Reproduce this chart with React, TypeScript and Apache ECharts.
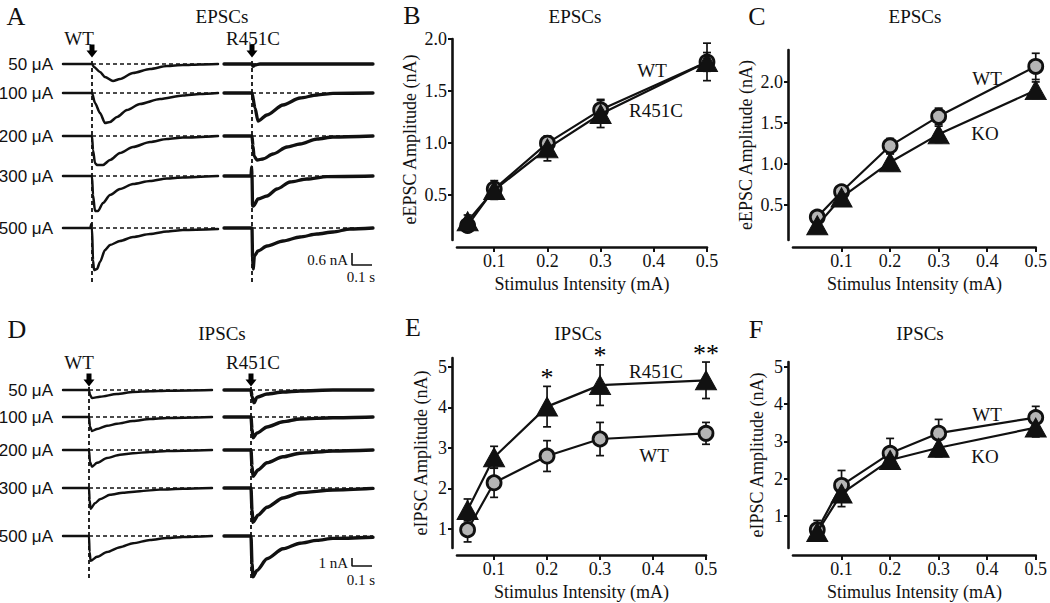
import React, { useEffect, useRef } from "react";
import * as echarts from "echarts";

// ---------------- data ----------------
const stimIntensity = [0.05, 0.1, 0.2, 0.3, 0.5];
const xTickValues = [0.1, 0.2, 0.3, 0.4, 0.5];
const epscTickValues = [0.5, 1.0, 1.5, 2.0];
const ipscTickValues = [1, 2, 3, 4, 5];
const stimLabels = ["50 μA", "100 μA", "200 μA", "300 μA", "500 μA"];

// Panel B (EPSCs, WT vs R451C)
const epscB_wtMean = [0.21, 0.56, 1.0, 1.32, 1.78];
const epscB_wtErr = [0.06, 0.06, 0.05, 0.1, 0.09];
const epscB_r451cMean = [0.25, 0.55, 0.95, 1.28, 1.78];
const epscB_r451cErr = [0.06, 0.09, 0.12, 0.13, 0.18];
// Panel C (EPSCs, WT vs KO)
const epscC_wtMean = [0.35, 0.66, 1.22, 1.58, 2.19];
const epscC_wtErr = [0.05, 0.06, 0.09, 0.1, 0.16];
const epscC_koMean = [0.25, 0.59, 1.02, 1.36, 1.9];
const epscC_koErr = [0.05, 0.06, 0.1, 0.1, 0.1];
// Panel E (IPSCs, WT vs R451C)
const ipscE_wtMean = [0.98, 2.14, 2.8, 3.22, 3.36];
const ipscE_wtErr = [0.3, 0.36, 0.38, 0.41, 0.27];
const ipscE_r451cMean = [1.47, 2.77, 4.02, 4.55, 4.67];
const ipscE_r451cErr = [0.27, 0.27, 0.5, 0.5, 0.45];
const ipscE_sigMarks = ["", "", "*", "*", "**"];
// Panel F (IPSCs, WT vs KO)
const ipscF_wtMean = [0.63, 1.82, 2.68, 3.22, 3.64];
const ipscF_wtErr = [0.25, 0.4, 0.4, 0.37, 0.3];
const ipscF_koMean = [0.57, 1.6, 2.5, 2.83, 3.37];
const ipscF_koErr = [0.22, 0.35, 0.22, 0.24, 0.25];

// Example traces: [time from stimulus (ms), current (nA)]
const epscWt50 = [[-145, 0], [-5, 0], [0, 0], [10, -0.15], [40, -0.4], [65, -0.65], [105, -0.85], [140, -0.75], [205, -0.45], [290, -0.25], [375, -0.1], [455, -0.05], [540, -0.02], [630, 0]];
const epscWt100 = [[-145, 0], [0, 0], [15, -0.5], [40, -1.0], [65, -1.5], [90, -1.45], [125, -1.2], [175, -0.85], [240, -0.55], [340, -0.3], [455, -0.12], [540, -0.05], [630, 0]];
const epscWt200 = [[-145, 0], [0, 0], [5, -0.7], [15, -1.35], [25, -1.45], [55, -1.45], [90, -1.2], [140, -0.85], [205, -0.55], [290, -0.3], [375, -0.15], [455, -0.08], [630, 0]];
const epscWt300 = [[-145, 0], [0, 0], [5, -0.95], [15, -1.75], [30, -1.75], [55, -1.35], [90, -0.95], [140, -0.65], [205, -0.4], [290, -0.25], [375, -0.12], [455, -0.07], [630, 0]];
const epscWt500 = [[-145, 0], [-8, 0], [-4, 0.2], [0, 0], [5, -1.6], [10, -2.1], [25, -2.05], [40, -1.7], [65, -1.1], [90, -0.85], [140, -0.65], [205, -0.45], [290, -0.3], [375, -0.18], [455, -0.1], [630, -0.05]];

const epscR451c50 = [[-140, 0], [0, 0], [5, -0.12], [15, -0.05], [40, 0], [605, 0]];
const epscR451c100 = [[-140, 0], [0, 0], [15, -0.75], [30, -1.4], [75, -1.1], [155, -0.6], [240, -0.25], [325, -0.1], [405, -0.02], [605, 0]];
const epscR451c200 = [[-140, 0], [0, 0], [5, -0.5], [10, -1.0], [25, -1.2], [55, -1.15], [105, -0.9], [175, -0.55], [240, -0.4], [325, -0.15], [405, -0.05], [605, 0]];
const epscR451c300 = [[-140, 0], [-5, 0], [-2, 0.45], [0, 0], [3, -1.5], [8, -1.5], [30, -1.15], [75, -1.0], [125, -0.65], [190, -0.3], [275, -0.15], [375, -0.03], [605, 0]];
const epscR451c500 = [[-140, 0], [0, 0], [3, -1.5], [6, -2.05], [12, -1.4], [30, -1.15], [75, -0.9], [155, -0.65], [240, -0.45], [325, -0.3], [405, -0.2], [490, -0.05], [605, 0]];

const ipscWt50 = [[-130, 0], [0, 0], [5, -0.6], [15, -1.0], [55, -0.85], [140, -0.5], [220, -0.25], [305, -0.16], [390, -0.09], [615, 0]];
const ipscWt100 = [[-130, 0], [0, 0], [5, -1.2], [15, -1.75], [40, -1.5], [90, -1.1], [140, -0.85], [220, -0.5], [305, -0.25], [390, -0.12], [615, 0]];
const ipscWt200 = [[-130, 0], [0, 0], [5, -1.5], [15, -2.1], [40, -1.6], [90, -1.0], [155, -0.6], [220, -0.4], [305, -0.25], [390, -0.12], [615, 0]];
const ipscWt300 = [[-130, 0], [0, 0], [3, -1.5], [8, -2.6], [30, -1.9], [55, -1.4], [105, -0.85], [170, -0.6], [255, -0.4], [355, -0.2], [470, -0.1], [615, 0]];
const ipscWt500 = [[-130, 0], [0, 0], [3, -2.0], [8, -3.1], [40, -2.6], [90, -2.0], [155, -1.4], [220, -0.9], [305, -0.5], [390, -0.25], [470, -0.12], [615, 0]];

const ipscR451c50 = [[-135, 0], [0, 0], [5, -0.8], [15, -1.6], [30, -0.9], [80, -0.5], [160, -0.25], [245, -0.12], [410, 0], [610, 0]];
const ipscR451c100 = [[-135, 0], [0, 0], [5, -1.5], [10, -2.6], [30, -2.0], [80, -1.25], [160, -0.6], [245, -0.25], [410, -0.1], [610, 0]];
const ipscR451c200 = [[-135, 0], [0, 0], [5, -2.0], [10, -3.3], [35, -2.5], [80, -1.6], [160, -0.85], [245, -0.4], [410, -0.12], [610, 0]];
const ipscR451c300 = [[-135, 0], [0, 0], [5, -2.8], [10, -4.3], [35, -3.4], [80, -2.4], [160, -1.25], [245, -0.6], [410, -0.25], [610, -0.05]];
const ipscR451c500 = [[-135, 0], [0, 0], [5, -3.5], [10, -5.1], [30, -4.3], [80, -2.85], [160, -1.6], [245, -0.9], [330, -0.55], [410, -0.3], [610, -0.15]];

// ---------------- styling ----------------
const SERIF = '"Liberation Serif", "Times New Roman", serif';
const SANS = '"Liberation Sans", Arial, sans-serif';
const INK = "#111";

function buildOption() {
  const grid: any[] = [];
  const xAxis: any[] = [];
  const yAxis: any[] = [];
  const series: any[] = [];
  const graphic: any[] = [];

  const addGrid = (g: any, xa: any, ya: any) => {
    const i = grid.length;
    grid.push({ ...g, containLabel: false });
    xAxis.push({ ...xa, gridIndex: i });
    yAxis.push({ ...ya, gridIndex: i });
    return i;
  };
  const hidden = (min: number, max: number) => ({ type: "value", min, max, show: false, splitLine: { show: false } });

  const text = (t: string, x: number, y: number, size: number, align = "center", family = SERIF) =>
    graphic.push({
      type: "text",
      x,
      y,
      silent: true,
      style: { text: t, fontSize: size, fontFamily: family, fill: INK, align, verticalAlign: "middle" },
    });

  // ---------- trace panels ----------
  type Col = {
    left: number; tMin: number; tMax: number; traces: number[][][]; width: number;
    arrowBottom: number; lineBottom: number;
  };
  const tracePanel = (
    cols: Col[], baselines: number[], pxPerNA: number, nAMax: number, nAMin: number, pxPerMs: number,
    bar: { nA: number; ms: number; t: number; v: number }
  ) => {
    cols.forEach((c, ci) => {
      const w = (c.tMax - c.tMin) * pxPerMs;
      // stimulus line + arrow
      const ov = addGrid(
        { left: c.left, top: c.arrowBottom, width: w, height: c.lineBottom - c.arrowBottom },
        hidden(c.tMin, c.tMax),
        hidden(0, 1)
      );
      series.push({
        type: "line", xAxisIndex: ov, yAxisIndex: ov, data: [[0, 0], [0, 1]], showSymbol: false, silent: true,
        lineStyle: { color: INK, width: 1.8, type: [4, 3] }, z: 1,
      });
      series.push({
        type: "scatter", xAxisIndex: ov, yAxisIndex: ov, data: [[0, 1]], silent: true,
        symbol: "path://M3,0 L8,0 L8,6 L11,6 L5.5,13 L0,6 L3,6 Z", symbolSize: [11, 13], symbolOffset: [0, -7],
        itemStyle: { color: "#000", opacity: 1 }, z: 5,
      });
      baselines.forEach((b, ri) => {
        const gi = addGrid(
          { left: c.left, top: b - nAMax * pxPerNA, width: w, height: (nAMax - nAMin) * pxPerNA },
          hidden(c.tMin, c.tMax),
          hidden(nAMin, nAMax)
        );
        series.push({
          type: "line", xAxisIndex: gi, yAxisIndex: gi, data: [[0, 0], [c.tMax, 0]], showSymbol: false, silent: true,
          lineStyle: { color: INK, width: 1.5, type: [4, 3] }, z: 1,
        });
        series.push({
          type: "line", xAxisIndex: gi, yAxisIndex: gi, data: c.traces[ri], showSymbol: false, silent: true,
          smooth: 0.25, smoothMonotone: "x", lineStyle: { color: INK, width: c.width, cap: "round", join: "round" }, z: 3,
        });
        if (ci === cols.length - 1 && ri === baselines.length - 1) {
          series.push({
            type: "line", xAxisIndex: gi, yAxisIndex: gi, showSymbol: false, silent: true,
            data: [[bar.t, bar.v + bar.nA], [bar.t, bar.v], [bar.t + bar.ms, bar.v]],
            lineStyle: { color: INK, width: 1.6 }, z: 3,
          });
        }
      });
    });
    baselines.forEach((b, ri) => text(stimLabels[ri], 53, b, 17, "right", SANS));
  };

  // Panel A
  tracePanel(
    [
      { left: 63, tMin: -145, tMax: 630, traces: [epscWt50, epscWt100, epscWt200, epscWt300, epscWt500], width: 2.5, arrowBottom: 58, lineBottom: 282 },
      { left: 224, tMin: -140, tMax: 605, traces: [epscR451c50, epscR451c100, epscR451c200, epscR451c300, epscR451c500], width: 3.3, arrowBottom: 58, lineBottom: 282 },
    ],
    [64, 93, 136, 176, 228], 20, 0.5, -2.5, 0.2,
    { nA: 0.6, ms: 100, t: 500, v: -1.85 }
  );
  // Panel D
  tracePanel(
    [
      { left: 63, tMin: -130, tMax: 615, traces: [ipscWt50, ipscWt100, ipscWt200, ipscWt300, ipscWt500], width: 2.4, arrowBottom: 387, lineBottom: 578 },
      { left: 224, tMin: -135, tMax: 610, traces: [ipscR451c50, ipscR451c100, ipscR451c200, ipscR451c300, ipscR451c500], width: 3.4, arrowBottom: 387, lineBottom: 578 },
    ],
    [390, 417, 450, 488, 536], 8, 1, -6, 0.2,
    { nA: 1, ms: 100, t: 505, v: -3.75 }
  );

  // ---------- x-y panels ----------
  type Group = { mean: number[]; err: number[]; kind: "circle" | "triangle" };
  const xyPanel = (p: {
    left: number; top: number; width: number; height: number; xMin: number; yMin: number; yMax: number;
    yTicks: number[]; decimals: number; yName: string; groups: Group[];
  }) => {
    const axisLine = { show: true, onZero: false, lineStyle: { color: INK, width: 2.6 } };
    const labelStyle = { color: INK, fontSize: 18, fontFamily: SERIF };
    const nameStyle = { color: INK, fontSize: 18, fontFamily: SERIF };
    const i = addGrid(
      { left: p.left, top: p.top, width: p.width, height: p.height },
      {
        type: "value", min: p.xMin, max: 0.5, offset: 7, axisLine,
        axisTick: { show: true, customValues: xTickValues, length: 5, lineStyle: { color: INK, width: 2 } },
        axisLabel: { show: true, customValues: xTickValues, formatter: (v: number) => v.toFixed(1), margin: 5, ...labelStyle },
        splitLine: { show: false },
        name: "Stimulus Intensity (mA)", nameLocation: "middle", nameGap: 28, nameTextStyle: nameStyle,
      },
      {
        type: "value", min: p.yMin, max: p.yMax, offset: 5, axisLine,
        axisTick: { show: true, customValues: p.yTicks, length: 4, lineStyle: { color: INK, width: 2 } },
        axisLabel: { show: true, customValues: p.yTicks, formatter: (v: number) => v.toFixed(p.decimals), margin: 5, ...labelStyle },
        splitLine: { show: false },
        name: p.yName, nameLocation: "middle", nameRotate: 90, nameGap: p.decimals ? 33 : 22, nameTextStyle: nameStyle,
      }
    );
    p.groups.forEach((g) => {
      series.push({
        type: "custom", xAxisIndex: i, yAxisIndex: i, silent: true, clip: false, z: 2,
        data: stimIntensity.map((x, k) => [x, g.mean[k] - g.err[k], g.mean[k] + g.err[k]]),
        encode: { x: 0, y: [1, 2] },
        renderItem: (_params: any, api: any) => {
          const x = api.value(0);
          const a = api.coord([x, api.value(1)]);
          const b = api.coord([x, api.value(2)]);
          const cap = 4;
          const st = { stroke: INK, lineWidth: 1.7 };
          return {
            type: "group",
            children: [
              { type: "line", shape: { x1: a[0], y1: a[1], x2: b[0], y2: b[1] }, style: st },
              { type: "line", shape: { x1: a[0] - cap, y1: a[1], x2: a[0] + cap, y2: a[1] }, style: st },
              { type: "line", shape: { x1: b[0] - cap, y1: b[1], x2: b[0] + cap, y2: b[1] }, style: st },
            ],
          };
        },
      });
    });
    p.groups.forEach((g, gi) => {
      const circ = g.kind === "circle";
      series.push({
        type: "line", xAxisIndex: i, yAxisIndex: i, silent: true, clip: false, z: 3 + gi,
        data: stimIntensity.map((x, k) => [x, g.mean[k]]),
        symbol: g.kind, symbolSize: circ ? 14 : [21, 19], showAllSymbol: true,
        itemStyle: circ ? { color: "#b5b5b5", borderColor: INK, borderWidth: 2.8 } : { color: INK, borderColor: INK, borderWidth: 1 },
        lineStyle: { color: INK, width: 2.2 },
      });
    });
    return i;
  };

  xyPanel({
    left: 457, top: 39, width: 250, height: 201, xMin: 0.03, yMin: 0.07, yMax: 2.0, yTicks: epscTickValues, decimals: 1,
    yName: "eEPSC Amplitude (nA)",
    groups: [{ mean: epscB_wtMean, err: epscB_wtErr, kind: "circle" }, { mean: epscB_r451cMean, err: epscB_r451cErr, kind: "triangle" }],
  });
  xyPanel({
    left: 793, top: 50, width: 246, height: 190, xMin: 0, yMin: 0.07, yMax: 2.39, yTicks: epscTickValues, decimals: 1,
    yName: "eEPSC Amplitude (nA)",
    groups: [{ mean: epscC_wtMean, err: epscC_wtErr, kind: "circle" }, { mean: epscC_koMean, err: epscC_koErr, kind: "triangle" }],
  });
  const eIdx = xyPanel({
    left: 457, top: 358, width: 249, height: 190, xMin: 0.03, yMin: 0.53, yMax: 5.22, yTicks: ipscTickValues, decimals: 0,
    yName: "eIPSC Amplitude (nA)",
    groups: [{ mean: ipscE_wtMean, err: ipscE_wtErr, kind: "circle" }, { mean: ipscE_r451cMean, err: ipscE_r451cErr, kind: "triangle" }],
  });
  xyPanel({
    left: 793, top: 362, width: 244, height: 186, xMin: 0, yMin: 0.14, yMax: 5.13, yTicks: ipscTickValues, decimals: 0,
    yName: "eIPSC Amplitude (nA)",
    groups: [{ mean: ipscF_wtMean, err: ipscF_wtErr, kind: "circle" }, { mean: ipscF_koMean, err: ipscF_koErr, kind: "triangle" }],
  });

  // significance marks in E (placed just above the upper error bar)
  series.push({
    type: "custom", xAxisIndex: eIdx, yAxisIndex: eIdx, silent: true, clip: false, z: 6,
    data: stimIntensity
      .map((x, k) => [x, ipscE_r451cMean[k] + ipscE_r451cErr[k], k])
      .filter((d) => ipscE_sigMarks[d[2]] !== ""),
    encode: { x: 0, y: 1 },
    renderItem: (_params: any, api: any) => {
      const p = api.coord([api.value(0), api.value(1)]);
      return {
        type: "text",
        x: p[0],
        y: p[1] + 4,
        style: {
          text: ipscE_sigMarks[api.value(2)],
          fill: "#000",
          fontSize: 26,
          fontFamily: SERIF,
          align: "center",
          verticalAlign: "bottom",
        },
      };
    },
  });

  // ---------- texts ----------
  [["A", 16, 16], ["B", 412, 15], ["C", 757, 16], ["D", 17, 329], ["E", 413, 327], ["F", 756, 329]].forEach(
    ([t, x, y]) => text(t as string, x as number, y as number, 26)
  );
  text("EPSCs", 222, 16, 19);
  text("EPSCs", 575, 16, 19);
  text("EPSCs", 915, 16, 19);
  text("IPSCs", 222, 333, 19);
  text("IPSCs", 578, 333, 19);
  text("IPSCs", 920, 333, 19);
  text("WT", 79, 38, 19);
  text("R451C", 253, 38, 19);
  text("WT", 79, 362, 19);
  text("R451C", 253, 362, 19);
  text("0.6 nA", 348, 260, 15, "right");
  text("0.1 s", 361, 277, 15);
  text("1 nA", 348, 563, 15, "right");
  text("0.1 s", 361, 580, 15);
  text("WT", 652, 70, 19);
  text("R451C", 656, 110, 19);
  text("WT", 987, 78, 19);
  text("KO", 985, 133, 19);
  text("R451C", 656, 371, 19);
  text("WT", 654, 455, 19);
  text("WT", 987, 414, 19);
  text("KO", 985, 456, 19);

  return {
    animation: false,
    backgroundColor: "#fff",
    textStyle: { fontFamily: SERIF },
    grid, xAxis, yAxis, series, graphic,
  };
}

export default function App() {
  const ref = useRef<HTMLDivElement>(null);
  useEffect(() => {
    if (!ref.current) return;
    const chart = echarts.init(ref.current, undefined, { renderer: "svg" });
    chart.setOption(buildOption() as any);
    return () => chart.dispose();
  }, []);
  return (
    <div
      ref={ref}
      style={{ position: "fixed", left: 0, top: 0, width: 1050, height: 603, background: "#fff" }}
    />
  );
}
